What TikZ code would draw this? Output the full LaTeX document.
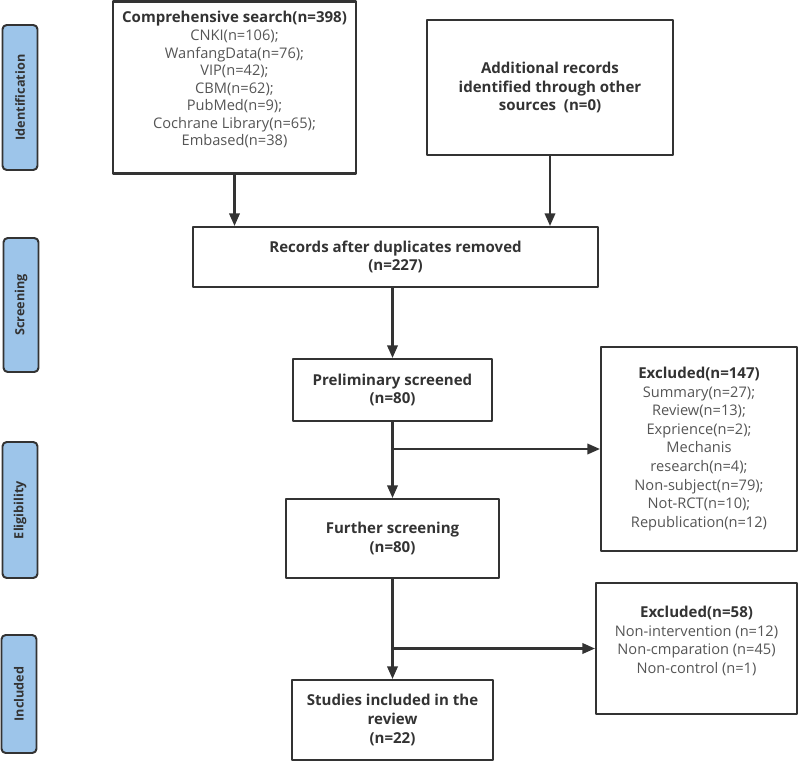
\documentclass[tikz,border=0pt]{standalone}
\usepackage{fontspec}
\setmainfont{Open Sans}
\usetikzlibrary{arrows.meta}
\definecolor{stageblue}{RGB}{157,197,234}
\definecolor{linegray}{RGB}{51,51,51}
\definecolor{textgray}{RGB}{85,85,85}
\newcommand{\boxhead}[1]{{\fontsize{10.7}{13.2}\selectfont\bfseries\color{linegray}#1}}
\begin{document}
\begin{tikzpicture}[x=0.025cm, y=-0.025cm, line join=round,
	font=\fontsize{10.4}{13.2}\selectfont, >={Triangle[length=9pt,width=7.5pt]},
	box/.style={draw=linegray, line width=1.5pt, align=center, inner sep=2pt, text=textgray},
	bbox/.style={box, font=\fontsize{10.7}{13.2}\selectfont\bfseries, text=linegray},
	stage/.style={draw=linegray, line width=1.4pt, fill=stageblue, rounded corners=3pt, rotate=90, minimum height=35*0.025cm, font=\fontsize{9}{11}\selectfont\bfseries, text=linegray},
	flow/.style={draw=linegray, line width=1.5pt}]
	\useasboundingbox (0,0) rectangle (800,761);
	\node[stage, minimum width=145*0.025cm] (ident) at (20,97.5) {Identification};
	\node[stage, minimum width=134*0.025cm] (screen) at (21,305) {Screening};
	\node[stage, minimum width=136*0.025cm] (elig) at (20,510) {Eligibility};
	\node[stage, minimum width=118*0.025cm] (incl) at (19,694) {Included};
	\node[box, minimum width=243*0.025cm, minimum height=172*0.025cm, font=\fontsize{10.4}{12.5}\selectfont] (search) at (234.5,87.5) {\boxhead{Comprehensive search(n=398)}\\CNKI(n=106);\\WanfangData(n=76);\\VIP(n=42);\\CBM(n=62);\\PubMed(n=9);\\Cochrane Library(n=65);\\Embased(n=38)\\[0pt]};
	\node[bbox, minimum width=246*0.025cm, minimum height=135*0.025cm] (other) at (550,87.5) {Additional records\\identified through other\\sources~~(n=0)};
	\node[bbox, minimum width=405*0.025cm, minimum height=60*0.025cm] (records) at (395.5,257) {Records after duplicates removed\\(n=227)};
	\node[bbox, minimum width=199*0.025cm, minimum height=62*0.025cm] (prelim) at (392.5,390) {Preliminary screened\\(n=80)};
	\node[bbox, minimum width=213*0.025cm, minimum height=79*0.025cm] (further) at (392.5,538.5) {Further screening\\(n=80)};
	\node[bbox, minimum width=201*0.025cm, minimum height=80*0.025cm] (studies) at (392.5,720) {Studies included in the\\review\\(n=22)};
	\node[box, minimum width=196*0.025cm, minimum height=204*0.025cm] (excl1) at (699,449) {\boxhead{Excluded(n=147)}\\Summary(n=27);\\Review(n=13);\\Exprience(n=2);\\Mechanis\\research(n=4);\\Non-subject(n=79);\\Not-RCT(n=10);\\Republication(n=12)};
	\node[box, minimum width=201*0.025cm, minimum height=131*0.025cm] (excl2) at (696.5,648.5) {\boxhead{Excluded(n=58)}\\Non-intervention (n=12)\\Non-cmparation (n=45)\\Non-control (n=1)\\[-1pt]};
	\draw[flow,->] (search.south) -- (search.south |- records.north);
	\draw[flow,->] (other.south) -- (other.south |- records.north);
	\draw[flow,->] (records.south -| prelim.north) -- (prelim.north);
	\draw[flow,->] (prelim.south) -- (further.north);
	\draw[flow,->] (prelim.south |- excl1.west) -- (excl1.west);
	\draw[flow,->] (further.south) -- (studies.north);
	\draw[flow,->] (further.south |- excl2.west) -- (excl2.west);
\end{tikzpicture}
\end{document}
